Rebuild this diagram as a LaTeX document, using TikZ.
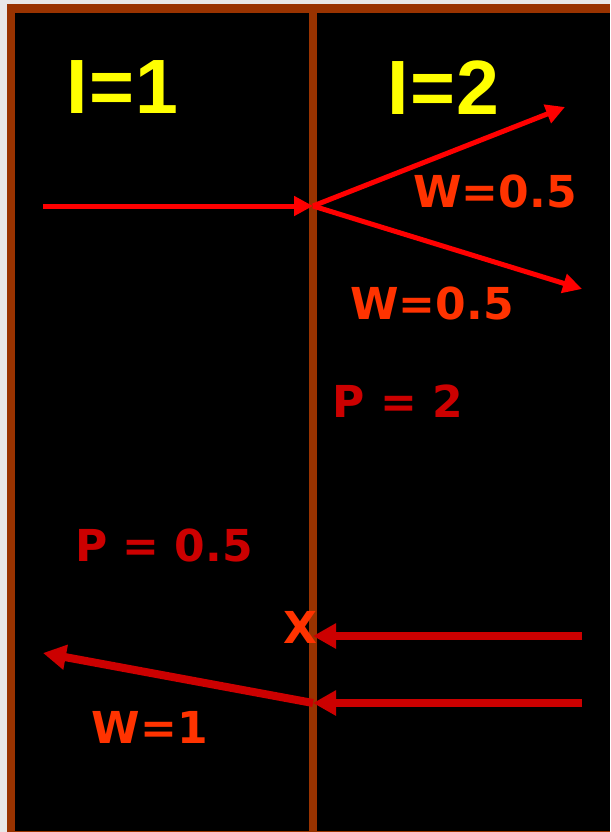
\documentclass[tikz,border=0pt]{standalone}
\usepackage{fontspec}
\setmainfont{DejaVu Sans}
\newfontfamily\arialfont{Liberation Sans}
\usetikzlibrary{arrows.meta}
\definecolor{bgray}{HTML}{E8E8E8}
\definecolor{brownline}{HTML}{993300}
\definecolor{tyellow}{HTML}{FFFF00}
\definecolor{wred}{HTML}{FF3300}
\definecolor{pred}{HTML}{CC0000}
\definecolor{ared}{HTML}{FF0000}
\tikzset{
  ilabel/.style={text=tyellow, font=\arialfont\bfseries\fontsize{77}{77}\selectfont, inner sep=0pt},
  wlabel/.style={text=wred, font=\bfseries\fontsize{44}{44}\selectfont, inner sep=0pt},
  plabel/.style={text=pred, font=\bfseries\fontsize{44}{44}\selectfont, inner sep=0pt},
  thinarrow/.style={draw=ared, line width=5pt, -{Triangle[length=19pt,width=19pt]}},
  thickarrow/.style={draw=pred, line width=8pt, -{Triangle[length=23pt,width=24pt]}},
}
\begin{document}
\begin{tikzpicture}[x=1pt,y=-1pt]
\useasboundingbox (0,0) rectangle (610,832);
\fill[bgray] (0,0) rectangle (610,832);
\fill[brownline] (7,4) rectangle (610,832);
\fill[black] (15,13) rectangle (610,830.5);
\fill[brownline] (309,13) rectangle (317,830.5);

% labels
\node[ilabel] (i1) at (122.5,87.5) {I\kern1pt=\kern1pt1};
\node[ilabel] (i2) at (443.5,87.5) {I\kern1pt=\kern1pt2};
\node[wlabel] (w1) at (495,191) {W=0.5};
\node[wlabel] (w2) at (432,303.5) {W=0.5};
\node[plabel] (p2) at (398,401) {P = 2};
\node[plabel] (p05) at (164,545) {P = 0.5};
\node[wlabel] (x) at (300,627) {X};
\node[wlabel] (w3) at (150,727) {W=1};

% coordinates
\coordinate (inStart) at (43,206);
\coordinate (split) at (313,206);
\coordinate (upEnd) at (565,107);
\coordinate (downEnd) at (582,289);
\coordinate (aStart) at (582,636);
\coordinate (aEnd) at (313,636);
\coordinate (bStart) at (582,703);
\coordinate (bEnd) at (313,703);
\coordinate (leftEnd) at (43,653);

% arrows
\draw[thinarrow] (inStart) -- (split);
\draw[thinarrow] (split) -- (upEnd);
\draw[thinarrow] (split) -- (downEnd);
\draw[thickarrow] (aStart) -- (aEnd);
\draw[thickarrow] (bStart) -- (bEnd);
\draw[thickarrow] (bEnd) -- (leftEnd);
\end{tikzpicture}
\end{document}
